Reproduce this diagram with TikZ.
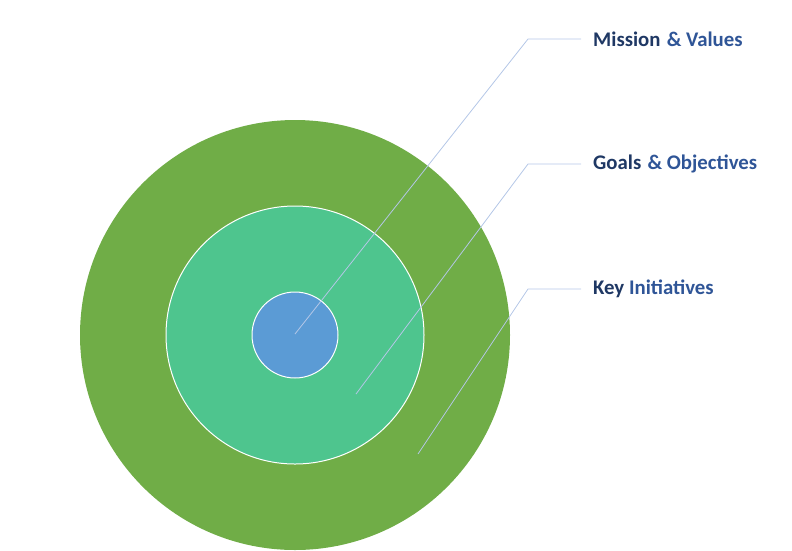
\documentclass[tikz,border=0pt]{standalone}
\usepackage{fontspec}
\setmainfont{Carlito}
\definecolor{ringgreen}{HTML}{70AD47}
\definecolor{goalteal}{HTML}{4EC58E}
\definecolor{coreblue}{HTML}{5B9BD5}
\definecolor{leaderblue}{HTML}{B4C7E7}
\definecolor{darknavy}{HTML}{1F3864}
\definecolor{midblue}{HTML}{2F5597}
\tikzset{
	ringlabel/.style={anchor=west, inner sep=0pt, font=\fontsize{20.8}{24}\selectfont\bfseries},
	leader/.style={leaderblue, line width=0.8pt}
}

\begin{document}
\begin{tikzpicture}[x=1pt,y=-1pt]
				\useasboundingbox (0,0) rectangle (792,550);
				\coordinate (O) at (295,335);
				
				\fill[ringgreen] (O) circle (215pt);
				\draw[white, line width=1pt, fill=goalteal] (O) circle (129pt);
				\draw[white, line width=1pt, fill=coreblue] (O) circle (43pt);
				
				\node[ringlabel] (mission) at (593,39) {\textcolor{darknavy}{Mission}\hspace{0.3em}\textcolor{midblue}{\& Values}};
				\node[ringlabel] (goals) at (593,164) {\textcolor{darknavy}{Goals}\hspace{0.3em}\textcolor{midblue}{\& Objectives}};
				\node[ringlabel] (key) at (593,289) {\textcolor{darknavy}{Key} \textcolor{midblue}{Initiatives}};
				
				\coordinate (m0) at (295,334);
				\coordinate (g0) at (356,394);
				\coordinate (k0) at (418,454);
				\coordinate (m1) at (528,39);
				\coordinate (g1) at (528,164);
				\coordinate (k1) at (528,289);
				
				\draw[leader] (m0) -- (m1) -- ([xshift=-12pt]mission.west);
				\draw[leader] (g0) -- (g1) -- ([xshift=-12pt]goals.west);
				\draw[leader] (k0) -- (k1) -- ([xshift=-12pt]key.west);
			\end{tikzpicture}
\end{document}
